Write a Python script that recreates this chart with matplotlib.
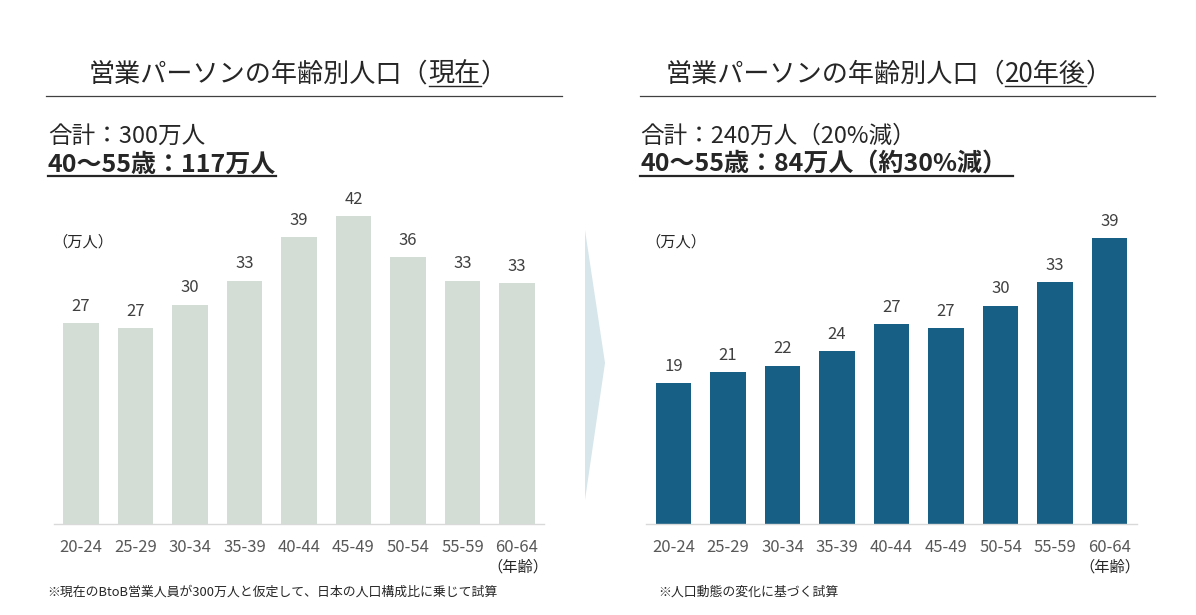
import matplotlib
matplotlib.use("Agg")
import matplotlib.pyplot as plt
from matplotlib.lines import Line2D
from matplotlib.patches import Polygon

plt.rcParams["font.family"] = ["Noto Sans CJK JP", "DejaVu Sans"]

W, H = 1196, 615

age_groups = ["20-24", "25-29", "30-34", "35-39", "40-44", "45-49", "50-54", "55-59", "60-64"]
now_values = [27.4, 26.7, 29.9, 33.2, 39.1, 42.0, 36.4, 33.2, 32.9]
future_values = [19.2, 20.7, 21.6, 23.6, 27.3, 26.7, 29.8, 33.0, 39.0]

NOW_COLOR = "#d3ddd6"
FUTURE_COLOR = "#175f85"
TEXT = "#262626"
VALUE_TEXT = "#404040"
TICK_TEXT = "#595959"


def fx(px):
    return px / W


def fy(py):
    return 1 - py / H


fig = plt.figure(figsize=(W / 100, H / 100), dpi=100)
fig.patch.set_facecolor("white")
renderer = fig.canvas.get_renderer()


def text_runs(x, y, runs, size, weight="normal", ha="left", ul_extra=0):
    """Draw a line of text made of runs; runs flagged True get underlined."""
    objs = []
    for s, _ in runs:
        t = fig.text(0, 0, s, fontsize=size, fontweight=weight, color=TEXT,
                     va="baseline", ha="left")
        objs.append(t)
    widths = [t.get_window_extent(renderer).width for t in objs]
    total = sum(widths)
    start = x - total / 2 if ha == "center" else x
    cur = start
    ul_segments = []
    for t, w, (s, ul) in zip(objs, widths, runs):
        t.set_position((fx(cur), fy(y)))
        if ul:
            ul_segments.append((cur, cur + w))
        cur += w
    for i, (a, b) in enumerate(ul_segments):
        if i == len(ul_segments) - 1:
            b += ul_extra
        fig.add_artist(Line2D([fx(a), fx(b)], [fy(y + 3.5), fy(y + 3.5)],
                              transform=fig.transFigure, color=TEXT,
                              lw=1.6 if weight == "bold" else 1.0))


def panel(x0, values, color, title_runs, title_cx, line_x, sub1, sub2_runs, ul_extra, note):
    # title and rule
    text_runs(title_cx, 82, title_runs, 18.8, ha="center")
    fig.add_artist(Line2D([fx(line_x[0]), fx(line_x[1])], [fy(96), fy(96)],
                          transform=fig.transFigure, color="#404040", lw=0.9))
    fig.text(fx(x0 - 6), fy(143), sub1, fontsize=17, color=TEXT, va="baseline")
    text_runs(x0 - 6, 172, sub2_runs, 18, weight="bold", ul_extra=ul_extra)

    # bar chart
    left, right = x0, x0 + 490.5
    bottom, top = 524, 524 - 45 * 7.33
    ax = fig.add_axes([fx(left), fy(bottom), fx(right - left), (bottom - top) / H])
    xs = range(len(values))
    bars = ax.bar(xs, values, width=0.66, color=color)
    for b, v in zip(bars, values):
        ax.annotate(f"{round(v)}", (b.get_x() + b.get_width() / 2, v),
                    xytext=(0, 6), textcoords="offset points", ha="center",
                    va="bottom", fontsize=12, color=VALUE_TEXT)
    ax.set_xlim(-0.5, len(values) - 0.5)
    ax.set_ylim(0, 45)
    ax.set_xticks(list(xs))
    ax.set_xticklabels(age_groups, fontsize=12, color=TICK_TEXT)
    ax.tick_params(axis="x", length=0, pad=11)
    ax.set_yticks([])
    for s in ("top", "left", "right"):
        ax.spines[s].set_visible(False)
    ax.spines["bottom"].set_color("#d9d9d9")
    ax.spines["bottom"].set_linewidth(1.0)
    ax.set_facecolor("none")

    fig.text(fx(x0 - 1), fy(242), "（万人）", fontsize=11, color=TEXT, va="center")
    fig.text(fx(right + 4), fy(567), "（年齢）", fontsize=11, color=TEXT,
             va="center", ha="right")
    fig.text(fx(x0 - 6 if x0 < 600 else x0 + 12), fy(592), note, fontsize=9.3,
             color=TEXT, va="center")


panel(53.75, now_values, NOW_COLOR,
      [("営業パーソンの年齢別人口（", False), ("現在", True), ("）", False)],
      298, (46, 562),
      "合計：300万人",
      [("40～55歳：117万人", True)], 0,
      "※現在のBtoB営業人員が300万人と仮定して、日本の人口構成比に乗じて試算")

panel(646.25, future_values, FUTURE_COLOR,
      [("営業パーソンの年齢別人口（", False), ("20年後", True), ("）", False)],
      889, (640, 1155),
      "合計：240万人（20%減）",
      [("40～55歳：84万人（約30%減）", True)], 6,
      "※人口動態の変化に基づく試算")

# chevron between the panels
fig.add_artist(Polygon([(fx(585), fy(230)), (fx(605), fy(363)), (fx(585), fy(500))],
                       closed=True, transform=fig.transFigure,
                       facecolor="#d6e6eb", edgecolor="none"))

fig.savefig("out.png", dpi=100, facecolor="white")
